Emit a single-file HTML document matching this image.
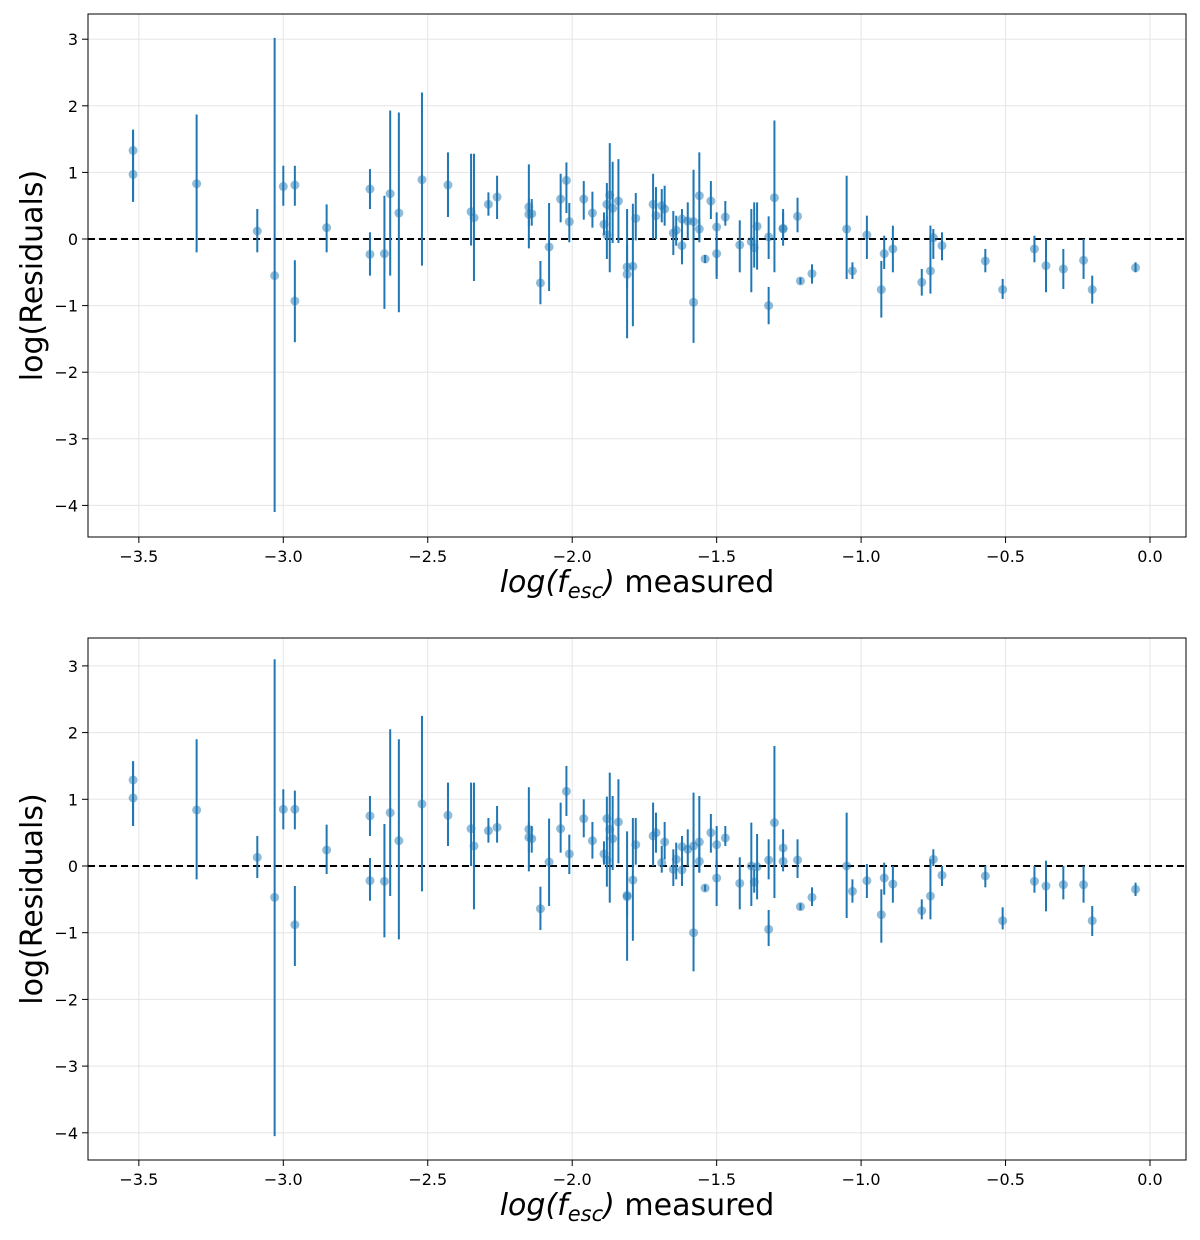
<!DOCTYPE html>
<html><head><meta charset="utf-8"><style>body{margin:0;background:#fff}svg{display:block}text{font-family:"DejaVu Sans","Liberation Sans",sans-serif}</style></head>
<body>
<svg id="chart" width="1200" height="1240" xmlns="http://www.w3.org/2000/svg"></svg>
<script>
const xTicks=[-3.5,-3.0,-2.5,-2.0,-1.5,-1.0,-0.5,0.0];
const yTicks=[3,2,1,0,-1,-2,-3,-4];
// [x, y, errLow, errHigh]
const topPoints=[[-3.52,1.33,0.56,1.64],[-3.52,0.97,0.56,1.64],[-3.30,0.83,-0.2,1.87],[-3.09,0.12,-0.2,0.45],[-3.03,-0.55,-4.1,3.02],[-3.00,0.79,0.5,1.1],[-2.96,0.81,0.5,1.1],[-2.96,-0.93,-1.55,-0.32],[-2.85,0.17,-0.2,0.52],[-2.70,0.75,0.45,1.05],[-2.70,-0.23,-0.55,0.1],[-2.65,-0.22,-1.05,0.65],[-2.63,0.68,-0.55,1.93],[-2.60,0.39,-1.1,1.9],[-2.52,0.89,-0.4,2.2],[-2.43,0.81,0.33,1.3],[-2.35,0.41,-0.1,1.28],[-2.34,0.32,-0.63,1.28],[-2.29,0.52,0.35,0.7],[-2.26,0.63,0.3,0.95],
[-2.15,0.48,-0.14,1.12],[-2.15,0.37,0.2,0.6],[-2.14,0.38,0.2,0.6],[-2.11,-0.66,-0.98,-0.33],[-2.08,-0.12,-0.78,0.54],[-2.04,0.6,0.25,0.98],[-2.02,0.88,0.39,1.15],[-2.01,0.26,-0.05,0.54],[-1.96,0.6,0.29,0.87],[-1.93,0.39,0.17,0.71],[-1.89,0.22,0.06,0.4],[-1.88,0.52,0.2,0.84],[-1.88,0.06,-0.3,0.34],[-1.87,0.66,-0.5,1.44],[-1.86,0.46,-0.06,1.16],[-1.84,0.57,-0.06,1.2],[-1.81,-0.42,-0.74,-0.09],[-1.81,-0.53,-1.49,0.45],[-1.79,-0.41,-1.31,0.53],[-1.78,0.31,-0.02,0.69],[-1.72,0.52,0.0,0.98],[-1.71,0.35,0.0,0.78],[-1.69,0.5,0.25,0.75],[-1.68,0.45,0.2,0.8],[-1.65,0.09,-0.24,0.42],[-1.64,0.13,-0.1,0.35],[-1.62,0.3,-0.38,0.45],[-1.62,-0.1,-0.3,0.1],[-1.60,0.27,0.0,0.55],[-1.58,0.26,0.0,1.0],[-1.58,-0.95,-1.56,1.04],[-1.56,0.65,0.0,1.3],[-1.56,0.15,-0.05,0.3],[-1.54,-0.3,-0.36,-0.24],[-1.52,0.57,0.3,0.87],[-1.50,0.18,-0.55,0.4],[-1.50,-0.22,-0.6,0.0],[-1.47,0.33,0.2,0.57],[-1.42,-0.09,-0.5,0.28],[-1.38,-0.04,-0.8,0.45],[-1.37,-0.13,-0.43,0.55],[-1.36,0.19,-0.46,0.55],[-1.32,0.03,-0.3,0.34],[-1.32,-1.0,-1.28,-0.72],[-1.30,0.62,-0.5,1.78],[-1.27,0.16,0.0,0.4],[-1.27,0.15,-0.1,0.45],[-1.22,0.34,0.1,0.62],[-1.21,-0.63,-0.68,-0.58],[-1.17,-0.52,-0.67,-0.38],
[-1.05,0.15,-0.6,0.95],[-1.03,-0.48,-0.6,-0.35],[-0.98,0.06,-0.3,0.35],[-0.93,-0.76,-1.18,-0.33],[-0.92,-0.22,-0.45,0.05],[-0.89,-0.15,-0.5,0.2],[-0.79,-0.65,-0.85,-0.45],[-0.76,-0.48,-0.82,0.2],[-0.75,0.02,-0.3,0.15],[-0.72,-0.1,-0.32,0.1],[-0.57,-0.33,-0.5,-0.15],[-0.51,-0.76,-0.9,-0.6],[-0.40,-0.15,-0.35,0.05],[-0.36,-0.4,-0.8,0.0],[-0.30,-0.45,-0.75,-0.15],[-0.23,-0.32,-0.6,0.0],[-0.20,-0.76,-0.97,-0.55],[-0.05,-0.43,-0.5,-0.35]];
const bottomPoints=[[-3.52,1.29,0.6,1.57],[-3.52,1.02,0.6,1.57],[-3.30,0.84,-0.2,1.9],[-3.09,0.13,-0.18,0.45],[-3.03,-0.47,-4.05,3.1],[-3.00,0.85,0.55,1.15],[-2.96,0.85,0.55,1.13],[-2.96,-0.88,-1.5,-0.3],[-2.85,0.24,-0.12,0.62],[-2.70,0.75,0.45,1.05],[-2.70,-0.22,-0.52,0.12],[-2.65,-0.23,-1.07,0.63],[-2.63,0.8,-0.45,2.05],[-2.60,0.38,-1.1,1.9],[-2.52,0.93,-0.38,2.25],[-2.43,0.76,0.3,1.25],[-2.35,0.56,0.0,1.25],[-2.34,0.3,-0.65,1.25],[-2.29,0.53,0.35,0.72],[-2.26,0.58,0.35,0.9],
[-2.15,0.55,-0.08,1.18],[-2.15,0.43,0.2,0.65],[-2.14,0.41,0.2,0.6],[-2.11,-0.64,-0.96,-0.31],[-2.08,0.06,-0.6,0.71],[-2.04,0.56,0.2,0.95],[-2.02,1.12,0.75,1.5],[-2.01,0.18,-0.12,0.47],[-1.96,0.71,0.43,1.0],[-1.93,0.38,0.11,0.66],[-1.89,0.18,0.02,0.37],[-1.88,0.71,0.39,1.04],[-1.88,0.09,-0.31,0.44],[-1.87,0.55,-0.55,1.4],[-1.86,0.41,-0.06,1.05],[-1.84,0.66,0.04,1.3],[-1.81,-0.44,-0.76,-0.08],[-1.81,-0.46,-1.42,0.52],[-1.79,-0.21,-1.12,0.72],[-1.78,0.32,0.02,0.72],[-1.72,0.45,0.0,0.95],[-1.71,0.5,0.2,0.8],[-1.69,0.05,-0.1,0.3],[-1.68,0.36,0.1,0.66],[-1.65,-0.05,-0.3,0.25],[-1.64,0.1,-0.2,0.35],[-1.62,0.29,-0.3,0.45],[-1.62,-0.06,-0.2,0.1],[-1.60,0.25,0.0,0.55],[-1.58,-1.0,-1.58,1.1],[-1.58,0.3,0.0,0.5],[-1.56,0.36,-0.1,1.05],[-1.56,0.07,-0.1,0.3],[-1.54,-0.33,-0.38,-0.28],[-1.52,0.5,0.2,0.78],[-1.50,0.32,0.0,0.6],[-1.50,-0.18,-0.6,0.08],[-1.47,0.42,0.3,0.6],[-1.42,-0.26,-0.65,0.13],[-1.38,0.0,-0.6,0.65],[-1.37,-0.24,-0.4,-0.05],[-1.36,-0.01,-0.5,0.48],[-1.32,0.09,-0.2,0.4],[-1.32,-0.95,-1.2,-0.66],[-1.30,0.65,-0.48,1.8],[-1.27,0.07,-0.08,0.25],[-1.27,0.27,0.0,0.55],[-1.22,0.09,-0.18,0.4],[-1.21,-0.61,-0.66,-0.56],[-1.17,-0.47,-0.6,-0.32],
[-1.05,0.0,-0.78,0.8],[-1.03,-0.38,-0.55,-0.2],[-0.98,-0.22,-0.48,0.03],[-0.93,-0.73,-1.15,-0.35],[-0.92,-0.18,-0.43,0.05],[-0.89,-0.27,-0.55,0.0],[-0.79,-0.67,-0.8,-0.5],[-0.76,-0.45,-0.8,0.1],[-0.75,0.1,0.0,0.25],[-0.72,-0.14,-0.3,0.0],[-0.57,-0.15,-0.32,0.0],[-0.51,-0.82,-0.95,-0.62],[-0.40,-0.23,-0.4,0.0],[-0.36,-0.3,-0.68,0.08],[-0.30,-0.28,-0.5,0.0],[-0.23,-0.28,-0.55,0.0],[-0.20,-0.82,-1.05,-0.6],[-0.05,-0.35,-0.45,-0.25]];

const NS='http://www.w3.org/2000/svg';
const svg=document.getElementById('chart');
function mk(tag,attrs,parent,txt){const e=document.createElementNS(NS,tag);for(const k in attrs)e.setAttribute(k,attrs[k]);if(txt!==undefined)e.textContent=txt;(parent||svg).appendChild(e);return e;}

function panel(points,top,bottom,y0,yScale,name){
  const L=88,R=1186;
  const g=mk('g',{});
  
  
  const X=v=>1150+288.9*v;
  const Y=v=>y0-yScale*v;
  xTicks.forEach(t=>{
    const l=mk('line',{x1:X(t),x2:X(t),y1:top,y2:bottom,stroke:'#e5e5e5','stroke-width':1},g);
    
    
    const tk=mk('line',{x1:X(t),x2:X(t),y1:bottom,y2:bottom+6,stroke:'#000','stroke-width':1},g);
    
    
    const tx=mk('text',{x:X(t),y:bottom+25,'font-size':16,'text-anchor':'middle'},g,(t<0?'\u2212':'')+Math.abs(t).toFixed(1));
    
    
  });
  yTicks.forEach(t=>{
    const l=mk('line',{x1:L,x2:R,y1:Y(t),y2:Y(t),stroke:'#e5e5e5','stroke-width':1},g);
    
    
    const tk=mk('line',{x1:L-6,x2:L,y1:Y(t),y2:Y(t),stroke:'#000','stroke-width':1},g);
    
    
    const tx=mk('text',{x:L-10,y:Y(t)+6,'font-size':16,'text-anchor':'end'},g,(t<0?'\u2212':'')+Math.abs(t));
    
    
  });
  const zl=mk('line',{x1:L,x2:R,y1:Y(0),y2:Y(0),stroke:'#000','stroke-width':2,'stroke-dasharray':'7,4'},g);
  
  
  points.forEach(p=>{
    const b=mk('line',{x1:X(p[0]),x2:X(p[0]),y1:Y(p[2]),y2:Y(p[3]),stroke:'#1f77b4','stroke-width':2},g);
    
    
  });
  points.forEach(p=>{
    const c=mk('circle',{cx:X(p[0]),cy:Y(p[1]),r:4.5,fill:'#1f77b4','fill-opacity':0.5},g);
    
    
  });
  const f=mk('rect',{x:L,y:top,width:R-L,height:bottom-top,fill:'none',stroke:'#000','stroke-width':1},g);
  
  
  const yl=mk('text',{x:0,y:0,'font-size':30,'text-anchor':'middle',transform:`translate(42,${(top+bottom)/2}) rotate(-90)`},g,'log(Residuals)');
  
  
  const xl=mk('text',{x:637,y:bottom+55,'font-size':30,'text-anchor':'middle'},g);
  
  
  mk('tspan',{'font-style':'italic'},xl,'log');
  mk('tspan',{'font-style':'italic'},xl,'(');
  mk('tspan',{'font-style':'italic'},xl,'f');
  mk('tspan',{'font-style':'italic','font-size':21,dy:6},xl,'esc');
  mk('tspan',{'font-style':'italic',dy:-6},xl,')');
  mk('tspan',{},xl,' measured');
}
panel(topPoints,14,537,239,66.6,'top-residuals-panel');
panel(bottomPoints,638,1160,866,66.7,'bottom-residuals-panel');
</script>
</body></html>
